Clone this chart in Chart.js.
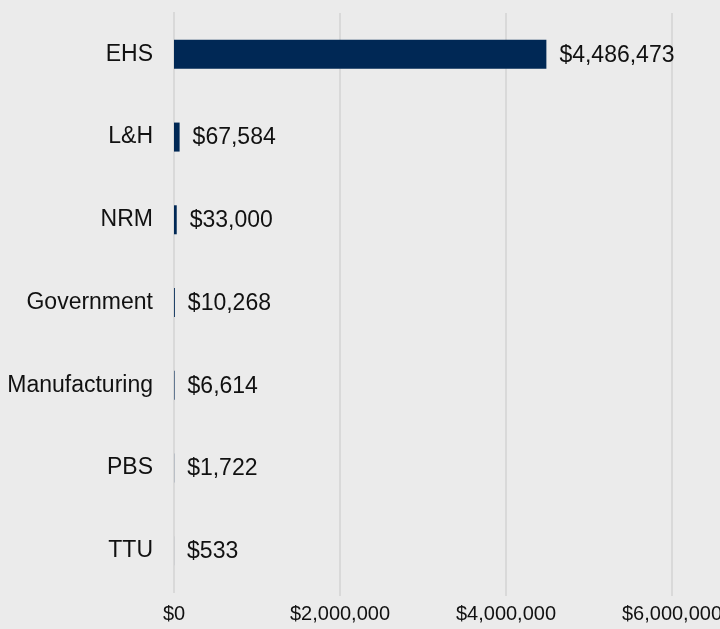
<!DOCTYPE html>
<html>
<head>
<meta charset="utf-8">
<script src="https://cdn.jsdelivr.net/npm/chart.js@4"></script>
<style>
  html, body { margin: 0; padding: 0; background: #ebebeb; }
  #wrap { width: 720px; height: 629px; }
</style>
</head>
<body>
<div id="wrap"><canvas id="chart" width="720" height="629"></canvas></div>
<script>
const categories = ['EHS', 'L&H', 'NRM', 'Government', 'Manufacturing', 'PBS', 'TTU'];
const amounts = [4486473, 67584, 33000, 10268, 6614, 1722, 533];
const xTicks = [0, 2000000, 4000000, 6000000];

const FONT = '"Liberation Sans", Arial, sans-serif';
const GRID = '#d9d9d9';

function money(v) {
    return '$' + Math.round(v).toLocaleString('en-US');
}

// value label just right of each bar end
const barLabels = {
    id: 'barLabels',
    afterDatasetsDraw(chart) {
        const ctx = chart.ctx;
        const meta = chart.getDatasetMeta(0);
        ctx.save();
        ctx.font = '23px ' + FONT;
        ctx.fillStyle = '#111111';
        ctx.textBaseline = 'middle';
        ctx.textAlign = 'left';
        meta.data.forEach((bar, i) => {
            ctx.fillText(money(amounts[i]), bar.x + 13, bar.y + 1);
        });
        ctx.restore();
    }
};

const ctx = document.getElementById('chart').getContext('2d');
new Chart(ctx, {
    type: 'bar',
    data: {
        labels: categories,
        datasets: [{
            data: amounts,
            backgroundColor: '#002855',
            borderWidth: 0,
            barThickness: 29,
            inflateAmount: 0
        }]
    },
    options: {
        indexAxis: 'y',
        responsive: false,
        animation: false,
        layout: { padding: { top: 13, right: 48, bottom: 0, left: 0 } },
        plugins: {
            legend: { display: false },
            tooltip: { enabled: false }
        },
        scales: {
            x: {
                min: 0,
                max: 6000000,
                afterBuildTicks(axis) {
                    axis.ticks = xTicks.map(v => ({ value: v }));
                },
                afterFit(axis) {
                    axis.height = 37;
                    axis.paddingLeft = 0;
                    axis.paddingRight = 0;
                },
                grid: {
                    color: GRID,
                    // zero line comes from the y border so tiny bars are not shifted
                    lineWidth: c => (c.tick && c.tick.value === 0 ? 0 : 2),
                    drawTicks: true,
                    tickLength: 4
                },
                border: { display: false },
                ticks: {
                    color: '#111111',
                    padding: 6,
                    maxRotation: 0,
                    font: { family: FONT, size: 20 },
                    callback: v => money(v)
                }
            },
            y: {
                z: 1,
                afterFit(axis) {
                    axis.width = 174;
                    axis.paddingTop = 0;
                    axis.paddingBottom = 0;
                },
                grid: { display: false },
                border: { display: true, color: GRID, width: 2 },
                ticks: {
                    color: '#111111',
                    padding: 13,
                    font: { family: FONT, size: 23 }
                }
            }
        }
    },
    plugins: [barLabels]
});
</script>
</body>
</html>
